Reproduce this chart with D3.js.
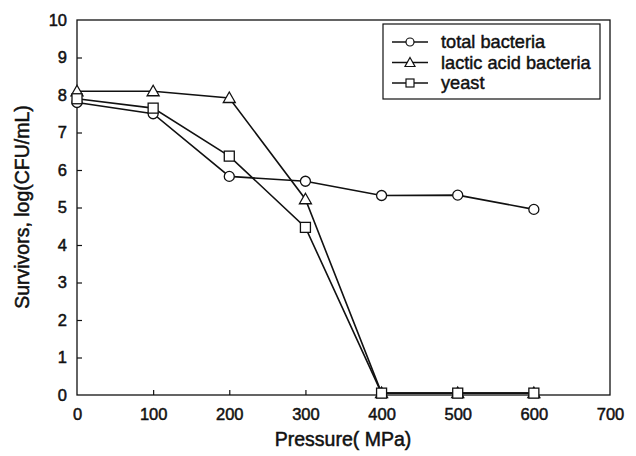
<!DOCTYPE html>
<html><head><meta charset="utf-8">
<script src="https://cdn.jsdelivr.net/npm/d3@7/dist/d3.min.js"></script>
<style>body{margin:0;background:#fff}svg text{font-family:"Liberation Sans",Arial,sans-serif;fill:#111}</style>
</head><body><svg id="c" width="636" height="456"></svg>
<script>
const pressure = [0, 100, 200, 300, 400, 500, 600];
const totalBacteria = [7.8, 7.5, 5.83, 5.7, 5.32, 5.33, 4.95];
const lacticAcid = [8.1, 8.1, 7.92, 5.22, 0.05, 0.05, 0.05];
const yeast = [7.9, 7.65, 6.37, 4.47, 0.05, 0.05, 0.05];
const xTicks = [0, 100, 200, 300, 400, 500, 600, 700];
const yTicks = [0, 1, 2, 3, 4, 5, 6, 7, 8, 9, 10];
const seriesNames = ["total bacteria", "lactic acid bacteria", "yeast"];
const seriesShapes = ["circle", "triangle", "square"];

const svg = d3.select("#c");
const L = 77, R = 610, T = 20, B = 395;
const x = d3.scaleLinear().domain([0, 700]).range([L, R]);
const y = d3.scaleLinear().domain([0, 10]).range([B, T]);

svg.append("rect").attr("x", L).attr("y", T).attr("width", R - L).attr("height", B - T)
  .attr("fill", "none").attr("stroke", "#111").attr("stroke-width", 1.3);

const xa = svg.append("g").attr("transform", `translate(0,${B})`)
  .call(d3.axisBottom(x).tickValues(xTicks).tickSize(-5).tickPadding(13).tickFormat(d3.format("d")));
const ya = svg.append("g").attr("transform", `translate(${L},0)`)
  .call(d3.axisLeft(y).tickValues(yTicks).tickSize(-5).tickPadding(10).tickFormat(d3.format("d")));
[xa, ya].forEach(a => {
  a.select(".domain").remove();
  a.selectAll(".tick line").attr("stroke", "#111").attr("stroke-width", 1.2);
  a.selectAll(".tick text").attr("font-size", 16.5).attr("fill", "#111")
    .attr("stroke", "#111").attr("stroke-width", 0.5);
});
xa.selectAll(".tick line").filter(d => d === 0 || d === 700).remove();
ya.selectAll(".tick line").filter(d => d === 0 || d === 10).remove();

svg.append("text").attr("x", 343).attr("y", 446).attr("text-anchor", "middle")
  .attr("font-size", 19.5).attr("stroke", "#111").attr("stroke-width", 0.5).text("Pressure( MPa)");
svg.append("text").attr("transform", "translate(29,207) rotate(-90)").attr("text-anchor", "middle")
  .attr("font-size", 19.5).attr("stroke", "#111").attr("stroke-width", 0.5).text("Survivors, log(CFU/mL)");

function marker(g, shape, cx, cy) {
  if (shape === "circle") g.append("circle").attr("cx", cx).attr("cy", cy).attr("r", 5);
  else if (shape === "square") g.append("rect").attr("x", cx - 5).attr("y", cy - 5).attr("width", 10).attr("height", 10);
  else g.append("path").attr("d", `M${cx},${cy - 6}L${cx + 6},${cy + 4.5}L${cx - 6},${cy + 4.5}Z`);
}

const allSeries = [totalBacteria, lacticAcid, yeast];
const line = d3.line().x((d, i) => x(pressure[i])).y(d => y(d));
allSeries.forEach(vals => {
  svg.append("path").datum(vals).attr("d", line).attr("fill", "none")
    .attr("stroke", "#111").attr("stroke-width", 1.6);
});
allSeries.forEach((vals, si) => {
  const g = svg.append("g").attr("fill", "#fff").attr("stroke", "#111").attr("stroke-width", 1.3);
  vals.forEach((v, i) => marker(g, seriesShapes[si], x(pressure[i]), y(v)));
});

const lg = svg.append("g");
lg.append("rect").attr("x", 383).attr("y", 24).attr("width", 217).attr("height", 75)
  .attr("fill", "#fff").attr("stroke", "#111").attr("stroke-width", 1.2);
seriesNames.forEach((n, i) => {
  const yy = 42 + i * 20.5;
  lg.append("line").attr("x1", 392).attr("x2", 428).attr("y1", yy).attr("y2", yy)
    .attr("stroke", "#111").attr("stroke-width", 1.3);
  const g = lg.append("g").attr("fill", "#fff").attr("stroke", "#111").attr("stroke-width", 1.2);
  if (seriesShapes[i] === "circle") g.append("circle").attr("cx", 410).attr("cy", yy).attr("r", 4);
  else if (seriesShapes[i] === "square") g.append("rect").attr("x", 406).attr("y", yy - 4).attr("width", 8).attr("height", 8);
  else g.append("path").attr("d", `M410,${yy - 5}L415,${yy + 4}L405,${yy + 4}Z`);
  lg.append("text").attr("x", 441).attr("y", yy + 6).attr("font-size", 18.2)
    .attr("stroke", "#111").attr("stroke-width", 0.45).text(n);
});
</script></body></html>
